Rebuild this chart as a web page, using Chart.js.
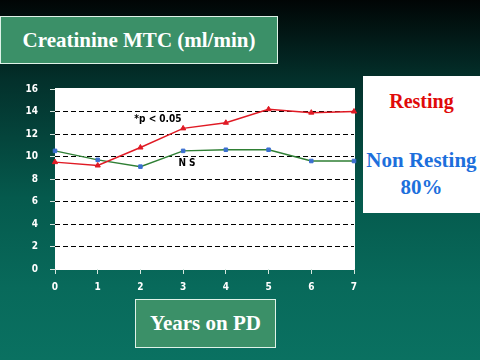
<!DOCTYPE html>
<html>
<head>
<meta charset="utf-8">
<script src="https://cdn.jsdelivr.net/npm/chart.js@4/dist/chart.umd.min.js"></script>
<style>
  html, body { margin: 0; padding: 0; }
  body {
    width: 480px; height: 360px; overflow: hidden; position: relative;
    background: linear-gradient(to bottom, #010505 0%, #03302b 22%, #055a4d 55%, #086a5b 80%, #0a7161 100%);
  }
  #wrap { position: absolute; left: 0; top: 0; width: 480px; height: 360px; }
  .box {
    position: absolute; box-sizing: border-box;
    background: #3b9068; border: 1px solid #dff2e8;
    color: #ffffff; font-family: 'Liberation Serif', 'Times New Roman', Times, 'DejaVu Serif', serif; font-weight: bold;
    display: flex; align-items: center; justify-content: center;
  }
  #title { left: 0; top: 16px; width: 278px; height: 48px; font-size: 21px; }
  #xtitle { left: 135px; top: 299px; width: 141px; height: 49px; font-size: 21px; }
  #legend {
    position: absolute; left: 363px; top: 76px; width: 117px; height: 137px;
    background: #ffffff; font-family: 'Liberation Serif', 'Times New Roman', Times, 'DejaVu Serif', serif; font-weight: bold;
    text-align: center;
  }
  #legend .r { position: absolute; left: 0; width: 117px; top: 14px; font-size: 20px; color: #e00a0a; }
  #legend .n { position: absolute; left: 0; width: 117px; top: 71px; font-size: 21px; line-height: 27px; color: #1d6fdc; }
</style>
</head>
<body>
<div id="wrap"><canvas id="c" width="480" height="360"></canvas></div>
<div class="box" id="title">Creatinine MTC (ml/min)</div>
<div class="box" id="xtitle">Years on PD</div>
<div id="legend">
  <div class="r">Resting</div>
  <div class="n">Non Resting<br>80%</div>
</div>
<script>
const years = ['0', '1', '2', '3', '4', '5', '6', '7'];
const resting = [9.5, 9.2, 10.8, 12.5, 13.0, 14.2, 13.9, 14.0];
const nonResting = [10.5, 9.7, 9.1, 10.5, 10.6, 10.6, 9.6, 9.6];
const yMin = 0, yMax = 16, yStep = 2;
const notes = [
  { text: '*p < 0.05', x: 2.41, y: 13.3 },
  { text: 'N S', x: 3.09, y: 9.35 }
];

const narrow = "'Liberation Sans Narrow', 'Arial Narrow', 'DejaVu Sans Condensed', 'Roboto Condensed', sans-serif";
const tickFont = { family: narrow, size: 10, weight: 'bold' };

const areaBg = {
  id: 'areaBg',
  beforeDraw(chart) {
    const { ctx, chartArea: a } = chart;
    ctx.save();
    ctx.fillStyle = '#ffffff';
    ctx.fillRect(a.left, a.top - 1, a.right - a.left + 1, a.bottom - a.top + 2);
    ctx.restore();
  }
};
const notesPlugin = {
  id: 'notes',
  afterDatasetsDraw(chart) {
    const { ctx, scales } = chart;
    ctx.save();
    ctx.fillStyle = '#000000';
    ctx.font = "bold 10px " + narrow;
    ctx.textAlign = 'center';
    ctx.textBaseline = 'middle';
    notes.forEach(n => {
      const px = scales.x.left + (scales.x.right - scales.x.left) * n.x / (years.length - 1);
      ctx.fillText(n.text, px, scales.y.getPixelForValue(n.y));
    });
    ctx.restore();
  }
};

new Chart(document.getElementById('c'), {
  type: 'line',
  data: {
    labels: years,
    datasets: [
      {
        label: 'Resting', data: resting,
        borderColor: '#e01a24', backgroundColor: '#e01a24', borderWidth: 1.5,
        pointStyle: 'triangle', pointRadius: 3, pointBorderWidth: 1, tension: 0
      },
      {
        label: 'Non Resting 80%', data: nonResting,
        borderColor: '#2f7f34', backgroundColor: '#3b6fd0', borderWidth: 1.5,
        pointStyle: 'rect', pointRadius: 2.5, pointBorderColor: '#3b6fd0', pointBorderWidth: 1, tension: 0
      }
    ]
  },
  options: {
    responsive: false, animation: false, devicePixelRatio: 1,
    layout: { padding: { left: 0, right: 126, top: 89, bottom: 0 } },
    plugins: { legend: { display: false }, title: { display: false }, tooltip: { enabled: false } },
    scales: {
      x: {
        type: 'category', offset: false,
        grid: { drawOnChartArea: false, drawTicks: true, tickLength: 5, tickColor: '#d8e8e0', tickWidth: 1 },
        border: { display: false },
        ticks: { color: '#ffffff', font: tickFont, padding: 7, maxRotation: 0 },
        afterFit(s) { s.height = 91; }
      },
      y: {
        min: yMin, max: yMax,
        grid: {
          color: (c) => (c.tick && (c.tick.value === yMin || c.tick.value === yMax)) ? 'rgba(0,0,0,0)' : '#000000',
          lineWidth: 1, drawTicks: true, tickLength: 5, tickColor: '#d8e8e0', tickBorderDash: []
        },
        border: { display: false, dash: [5, 3] },
        ticks: { stepSize: yStep, color: '#ffffff', font: tickFont, padding: 12 },
        afterFit(s) { s.width = 55; }
      }
    }
  },
  plugins: [areaBg, notesPlugin]
});
</script>
</body>
</html>
